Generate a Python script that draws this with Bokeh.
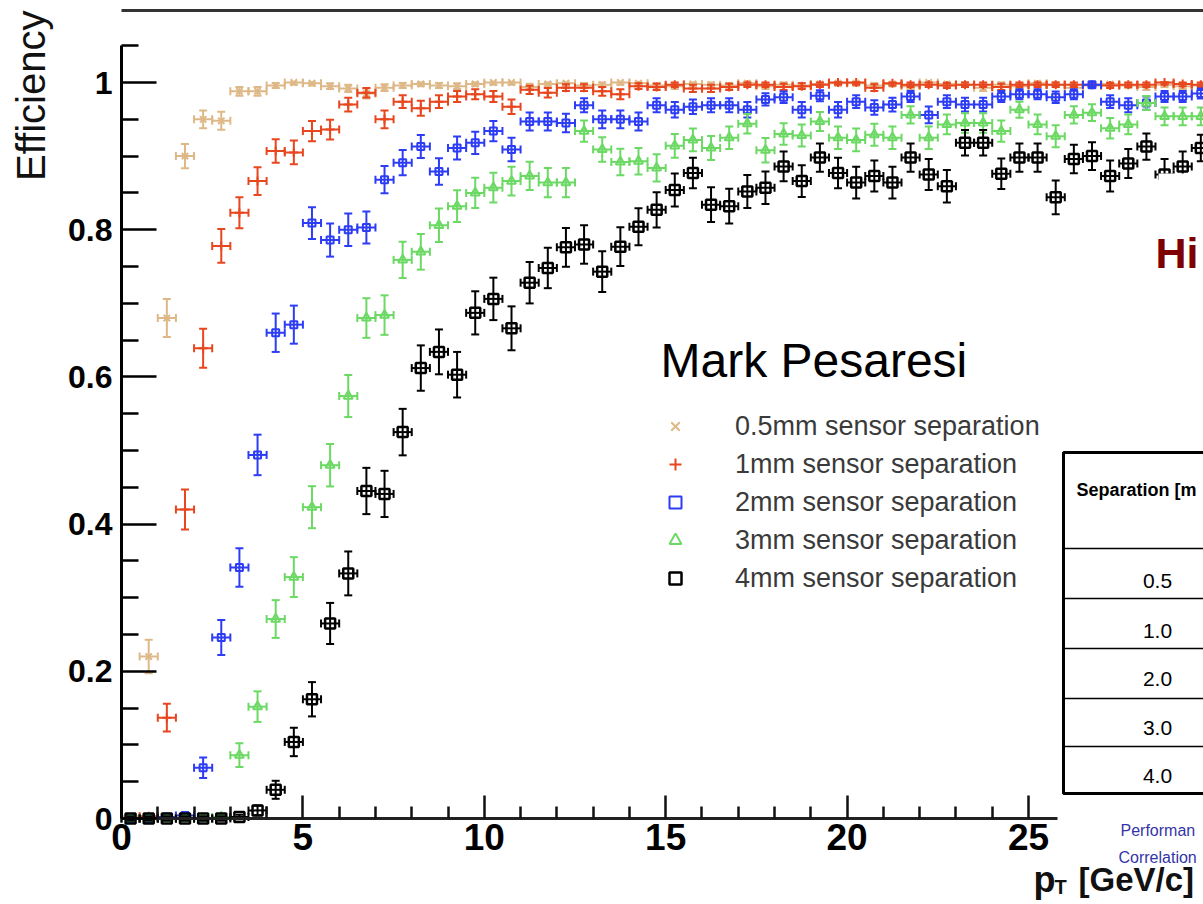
import numpy as np
from bokeh.plotting import figure
from bokeh.models import (ColumnDataSource, FixedTicker, LinearAxis, Label,
                          BoxAnnotation, PrintfTickFormatter, Range1d)
from bokeh.embed import file_html
from bokeh.resources import INLINE

# ---------------- data ----------------
pt = [0.25, 0.75, 1.25, 1.75, 2.25, 2.75, 3.25, 3.75, 4.25, 4.75,
      5.25, 5.75, 6.25, 6.75, 7.25, 7.75, 8.25, 8.75, 9.25, 9.75,
      10.25, 10.75, 11.25, 11.75, 12.25, 12.75, 13.25, 13.75, 14.25, 14.75,
      15.25, 15.75, 16.25, 16.75, 17.25, 17.75, 18.25, 18.75, 19.25, 19.75,
      20.25, 20.75, 21.25, 21.75, 22.25, 22.75, 23.25, 23.75, 24.25, 24.75,
      25.25, 25.75, 26.25, 26.75, 27.25, 27.75, 28.25, 28.75, 29.25, 29.75]
half_bin = 0.25

eff_05mm = [0.003, 0.220, 0.680, 0.900, 0.950, 0.948, 0.988, 0.988, 0.996, 1.000,
            0.999, 0.995, 0.992, 0.985, 0.993, 0.996, 0.998, 0.996, 0.995, 0.998,
            1.000, 1.000, 0.994, 0.998, 0.999, 0.996, 0.997, 1.000, 0.999, 0.996,
            0.995, 0.998, 0.997, 0.996, 0.999, 0.995, 0.997, 0.996, 0.998, 0.999,
            0.999, 0.996, 0.998, 0.995, 1.000, 0.998, 0.997, 0.993, 0.997, 0.995,
            0.999, 0.997, 0.993, 0.996, 0.998, 0.996, 0.994, 0.997, 0.995, 0.996]
eff_1mm = [0.000, 0.003, 0.137, 0.420, 0.639, 0.778, 0.823, 0.866, 0.907, 0.905,
           0.934, 0.936, 0.970, 0.986, 0.950, 0.974, 0.965, 0.974, 0.981, 0.984,
           0.981, 0.967, 0.990, 0.986, 0.993, 0.993, 0.988, 0.984, 0.995, 0.994,
           0.997, 0.992, 0.992, 0.994, 0.997, 0.997, 0.994, 0.995, 0.997, 1.000,
           1.000, 0.993, 0.999, 0.997, 0.997, 0.996, 0.997, 0.997, 0.994, 0.997,
           0.997, 0.997, 0.997, 0.997, 0.996, 0.997, 0.997, 1.000, 0.998, 0.997]
eff_2mm = [0.000, 0.000, 0.002, 0.004, 0.069, 0.246, 0.341, 0.494, 0.660, 0.671,
           0.809, 0.786, 0.800, 0.803, 0.868, 0.891, 0.913, 0.879, 0.911, 0.918,
           0.934, 0.909, 0.947, 0.947, 0.945, 0.969, 0.950, 0.950, 0.947, 0.969,
           0.963, 0.967, 0.969, 0.969, 0.963, 0.977, 0.980, 0.963, 0.982, 0.963,
           0.974, 0.966, 0.970, 0.981, 0.956, 0.974, 0.970, 0.970, 0.981, 0.984,
           0.984, 0.980, 0.984, 0.997, 0.974, 0.969, 0.972, 0.981, 0.981, 0.985]
eff_3mm = [0.000, 0.000, 0.000, 0.000, 0.000, 0.002, 0.086, 0.152, 0.271, 0.328,
           0.423, 0.480, 0.574, 0.680, 0.684, 0.759, 0.770, 0.806, 0.832, 0.850,
           0.857, 0.866, 0.873, 0.864, 0.864, 0.934, 0.909, 0.892, 0.893, 0.884,
           0.914, 0.922, 0.911, 0.925, 0.944, 0.908, 0.930, 0.928, 0.947, 0.925,
           0.922, 0.929, 0.925, 0.956, 0.925, 0.943, 0.945, 0.945, 0.934, 0.963,
           0.943, 0.927, 0.956, 0.959, 0.938, 0.943, 0.972, 0.954, 0.954, 0.954]
eff_4mm = [0.000, 0.000, 0.000, 0.000, 0.000, 0.000, 0.002, 0.011, 0.039, 0.104,
           0.162, 0.265, 0.333, 0.445, 0.441, 0.525, 0.612, 0.634, 0.603, 0.687,
           0.706, 0.666, 0.728, 0.748, 0.776, 0.780, 0.743, 0.777, 0.804, 0.827,
           0.854, 0.877, 0.834, 0.832, 0.852, 0.857, 0.886, 0.866, 0.898, 0.877,
           0.864, 0.873, 0.864, 0.898, 0.875, 0.859, 0.918, 0.918, 0.876, 0.898,
           0.898, 0.844, 0.896, 0.900, 0.873, 0.890, 0.913, 0.875, 0.886, 0.911]

legend_labels = ["0.5mm sensor separation", "1mm sensor separation",
                 "2mm sensor separation", "3mm sensor separation",
                 "4mm sensor separation"]
events_per_bin = [330, 330, 330, 300, 250]   # sets the binomial error bar size

x_ticks = [0, 5, 10, 15, 20, 25]
x_minor = [1, 2, 3, 4, 6, 7, 8, 9, 11, 12, 13, 14, 16, 17, 18, 19, 21, 22, 23, 24]
y_ticks = [0, 0.2, 0.4, 0.6, 0.8, 1]
y_minor = [0.05, 0.1, 0.15, 0.25, 0.3, 0.35, 0.45, 0.5, 0.55, 0.65, 0.7, 0.75,
           0.85, 0.9, 0.95, 1.05]
table_rows = ["0.5", "1.0", "2.0", "3.0", "4.0"]

# ---------------- styling ----------------
TAN, RED, BLUE, GREEN, BLACK = "#DEB887", "#E8461E", "#2D3CF5", "#6CD964", "#000000"
styles = [
    dict(color=TAN, marker="x", size=9, lw=2.0),
    dict(color=RED, marker="cross", size=9, lw=2.0),
    dict(color=BLUE, marker="square", size=7, lw=2.0),
    dict(color=GREEN, marker="triangle", size=9, lw=2.0),
    dict(color=BLACK, marker="square", size=10, lw=2.5),
]
FONT = "Liberation Sans"

W, H = 1203, 904
X0PX, Y0PX = 121, 818            # canvas pixel of pT = 0 / efficiency = 0
PXX, PXY = 36.28, 736.0          # pixels per unit


def dx(px):
    return (px - X0PX) / PXX


def dy(py):
    return (Y0PX - py) / PXY


# the frame covers the whole canvas; axes are pinned at the origin
p = figure(width=W, height=H, x_range=Range1d(dx(0), dx(W)), y_range=Range1d(dy(H), dy(0)),
           output_backend="svg", toolbar_location=None,
           min_border_left=0, min_border_right=0, min_border_top=0, min_border_bottom=0)
p.grid.visible = False
p.outline_line_color = None
p.background_fill_color = "white"
p.border_fill_color = "white"

# ---------------- series ----------------
all_eff = [eff_05mm, eff_1mm, eff_2mm, eff_3mm, eff_4mm]
x = np.array(pt)
for eff, lab, n, st in zip(all_eff, legend_labels, events_per_bin, styles):
    e = np.array(eff)
    err = np.maximum(np.sqrt(e * (1 - e) / n), 0.003)
    lo = e - err
    hi = np.minimum(e + err, 1.0)
    src = ColumnDataSource(dict(x=x, y=e, lo=lo, hi=hi, xl=x - half_bin, xh=x + half_bin))
    capv = ColumnDataSource(dict(x=np.concatenate([x, x]), y=np.concatenate([lo, hi])))
    caph = ColumnDataSource(dict(x=np.concatenate([x - half_bin, x + half_bin]),
                                 y=np.concatenate([e, e])))
    c = st["color"]
    p.segment(x0="x", y0="lo", x1="x", y1="hi", source=src, line_color=c, line_width=2)
    p.segment(x0="xl", y0="y", x1="xh", y1="y", source=src, line_color=c, line_width=2)
    p.scatter(x="x", y="y", source=capv, marker="dash", size=8, line_color=c, line_width=2)
    p.scatter(x="x", y="y", source=caph, marker="dash", angle=np.pi / 2, size=8,
              line_color=c, line_width=2)
    p.scatter(x="x", y="y", source=src, marker=st["marker"], size=st["size"],
              line_color=c, fill_color=None, line_width=st["lw"], legend_label=lab)

# ---------------- axes ----------------
xa = p.xaxis[0]
xa.fixed_location = 0
xa.ticker = FixedTicker(ticks=x_ticks, minor_ticks=x_minor)
xa.bounds = (0, 25.8)
xa.axis_line_width = 3
xa.axis_line_color = "#222222"
xa.major_tick_in, xa.major_tick_out = 23, 0
xa.minor_tick_in, xa.minor_tick_out = 12, 0
xa.major_tick_line_width = 2.5
xa.minor_tick_line_width = 2.5
xa.major_tick_line_color = "#111111"
xa.minor_tick_line_color = "#111111"
xa.major_label_text_font = FONT
xa.major_label_text_font_style = "bold"
xa.major_label_text_font_size = "37px"
xa.major_label_text_color = "black"
xa.major_label_standoff = 5

ya = p.yaxis[0]
ya.fixed_location = 0
ya.ticker = FixedTicker(ticks=y_ticks, minor_ticks=y_minor)
ya.formatter = PrintfTickFormatter(format="%g")
ya.bounds = (0, 1.05)
ya.axis_line_width = 3
ya.axis_line_color = "black"
ya.major_tick_in, ya.major_tick_out = 35, 0
ya.minor_tick_in, ya.minor_tick_out = 17, 0
ya.major_tick_line_width = 2.5
ya.minor_tick_line_width = 2.5
ya.major_label_text_font = FONT
ya.major_label_text_font_style = "bold"
ya.major_label_text_font_size = "32px"
ya.major_label_text_color = "black"
ya.major_label_standoff = 9

top = LinearAxis(ticker=FixedTicker(ticks=[]), fixed_location=dy(10), bounds=(0, 40),
                 axis_line_width=3, axis_line_color="#333333",
                 major_tick_in=0, major_tick_out=0, minor_tick_in=0, minor_tick_out=0,
                 major_label_standoff=0, major_label_text_font_size="1px")
p.add_layout(top, "above")

# ---------------- legend ----------------
lg = p.legend[0]
lg.location = (660, H - 597)
lg.glyph_width = 30
lg.glyph_height = 38
lg.label_height = 38
lg.spacing = 0
lg.padding = 0
lg.margin = 0
lg.label_standoff = 45
lg.border_line_color = None
lg.background_fill_alpha = 0
lg.label_text_font = FONT
lg.label_text_font_size = "27px"
lg.label_text_color = "#3a3a3a"

# ---------------- texts ----------------
def txt(px, py, s, size, color="#111111", style="normal", align="left", angle=0):
    p.add_layout(Label(x=dx(px), y=dy(py), text=s, text_align=align, angle=angle,
                       angle_units="deg", text_baseline="alphabetic", text_font=FONT,
                       text_font_style=style, text_font_size=size, text_color=color))


txt(30, 10, "Efficiency", "40px", align="right", angle=90)
txt(1033, 879, "p", "36px", style="bold")
txt(1054, 886, "T", "20px", style="bold")
txt(1078, 879, "[GeV/c]", "33px", style="bold")
txt(660, 360, "Mark Pesaresi", "48px", color="black")

# slide overlay: title box and table
p.add_layout(BoxAnnotation(left=dx(1158), right=dx(1230), top=dy(173), bottom=dy(452),
                           fill_color="white", fill_alpha=1, line_color=None))
txt(1155, 252, "Hi", "43px", color="#7F0000", style="bold")

p.add_layout(BoxAnnotation(left=dx(1063), right=dx(1240), top=dy(452), bottom=dy(793),
                           fill_color="white", fill_alpha=1, line_color="black",
                           line_alpha=1, line_width=3))
for yl in [548, 598, 648, 698, 746]:
    p.add_layout(BoxAnnotation(left=dx(1063), right=dx(1240), top=dy(yl - 0.8),
                               bottom=dy(yl + 0.8), fill_color="black", fill_alpha=1,
                               line_color=None))
txt(1076, 489, "Separation [m", "18px", color="black", style="bold")
for s, base in zip(table_rows, [580, 630, 678, 727, 775]):
    txt(1157, base, s, "21px", color="black", align="center")
txt(1120, 830, "Performan", "16px", color="#3434A8")
txt(1118, 857, "Correlation", "16px", color="#3434A8")

open("out.html", "w").write(file_html(p, INLINE))
